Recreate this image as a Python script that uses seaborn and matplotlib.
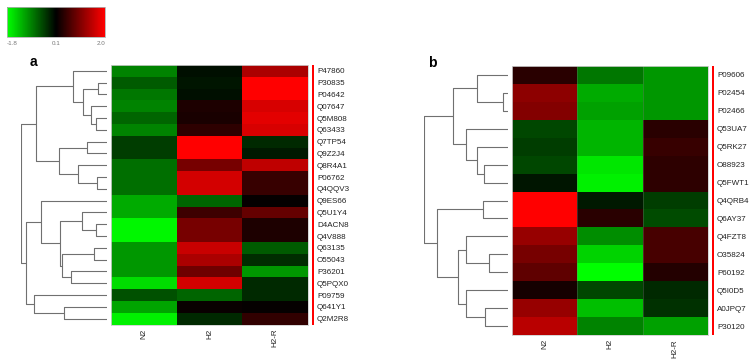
import numpy as np
import pandas as pd
import matplotlib
matplotlib.use("Agg")
import matplotlib.pyplot as plt
from matplotlib.colors import LinearSegmentedColormap
import seaborn as sns

# ---- data ----
columns = ["N2", "H2", "H2-R"]

rows_a = ["P47860", "P30835", "P04642", "Q07647", "Q5M808", "Q63433", "Q7TP54",
          "Q9Z2J4", "Q8R4A1", "P06762", "Q4QQV3", "Q9ES66", "Q5U1Y4", "D4ACN8",
          "Q4V888", "Q63135", "O55043", "P36201", "Q5PQX0", "P09759", "Q641Y1",
          "Q2M2R8"]
n2_a = [-0.87, -0.57, -0.79, -0.87, -0.65, -0.87, -0.35, -0.35, -0.72, -0.72, -0.72,
        -1.17, -1.17, -1.73, -1.73, -1.02, -1.02, -1.02, -1.54, -0.50, -1.13, -1.69]
h2_a = [-0.01, -0.05, -0.01, 0.32, 0.29, 0.44, 2.0, 2.0, 0.99, 1.66, 1.66,
        -0.65, 0.55, 0.99, 0.99, 1.59, 1.37, 0.92, 1.66, -0.65, 0.17, -0.20]
h2r_a = [1.37, 2.0, 2.0, 1.70, 1.78, 1.70, -0.20, -0.09, 1.52, 0.51, 0.51,
         0.14, 0.85, 0.32, 0.32, -0.57, -0.24, -1.02, -0.20, -0.20, 0.14, 0.47]

rows_b = ["P09606", "P02454", "P02466", "Q53UA7", "Q5RK27", "O88923", "Q5FWT1",
          "Q4QRB4", "Q6AY37", "Q4FZT8", "O35824", "P60192", "Q5I0D5", "A0JPQ7",
          "P30120"]
n2_b = [0.40, 1.14, 1.07, -0.42, -0.35, -0.42, -0.05, 2.0, 2.0, 1.22, 0.99, 0.81,
        0.25, 1.22, 1.48]
h2_b = [-0.79, -1.17, -1.09, -1.24, -1.24, -1.61, -1.69, -0.09, 0.40, -0.94, -1.46,
        -1.80, -0.42, -1.32, -0.87]
h2r_b = [-1.02, -1.02, -1.02, 0.40, 0.51, 0.44, 0.44, -0.35, -0.46, 0.62, 0.62,
         0.36, -0.20, -0.27, -1.09]

# merges: (left id, right id, height); ids >= n point to earlier merges
links_a = [(1, 2, 27), (4, 5, 32), (3, 23, 48), (22, 24, 73), (0, 25, 102),
           (6, 7, 60), (9, 10, 30), (8, 28, 88), (27, 29, 145), (26, 30, 213),
           (13, 14, 32), (12, 32, 75), (15, 16, 40), (17, 18, 107), (34, 35, 135),
           (33, 36, 142), (11, 37, 198), (20, 21, 128), (19, 39, 220),
           (38, 40, 243), (31, 41, 257)]
links_b = [(1, 2, 15), (0, 15, 92), (5, 6, 72), (4, 17, 92), (3, 18, 125),
           (16, 19, 167), (7, 8, 75), (10, 11, 58), (9, 22, 125), (13, 14, 68),
           (12, 24, 128), (23, 25, 150), (21, 26, 215), (20, 27, 253)]

vmin, vmax = -1.8, 2.0
cbar_ticks = [-1.8, 0.1, 2.0]

plt.rcParams['font.family'] = ['Liberation Sans', 'DejaVu Sans']

cmap = LinearSegmentedColormap.from_list("gkr", ["#00ff00", "#000000", "#ff0000"])
W, H = 756, 363


def box(x0, y0, x1, y1):
    # pixel box -> figure fraction rect
    return [x0 / W, 1 - y1 / H, (x1 - x0) / W, (y1 - y0) / H]


def draw_dendro(ax, links, n, xmax):
    pos = {i: (i + 0.5, 0.0) for i in range(n)}
    for k, (l, r, h) in enumerate(links):
        yl, hl = pos[l]
        yr, hr = pos[r]
        ax.plot([hl, h, h, hr], [yl, yl, yr, yr], color="#707070", lw=0.8,
                solid_capstyle="butt")
        pos[n + k] = ((yl + yr) / 2, h)
    ax.set_xlim(xmax, 0)
    ax.set_ylim(n, 0)
    ax.axis("off")


def red_bar(fig, x0, y0, y1):
    bax = fig.add_axes(box(x0, y0, x0 + 2.6, y1))
    bax.set_facecolor("#ff0000")
    bax.set_xticks([])
    bax.set_yticks([])
    for s in bax.spines.values():
        s.set_visible(False)


def style_heat(ax):
    ax.yaxis.tick_right()
    ax.tick_params(axis="y", length=0, pad=6.5, labelsize=5.8, labelrotation=0,
                   colors="#222222")
    ax.tick_params(axis="x", length=0, pad=3, labelsize=5.8, labelrotation=90,
                   colors="#222222")
    for s in ax.spines.values():
        s.set_visible(True)
        s.set_edgecolor("#cfcfcf")
        s.set_linewidth(0.6)


fig = plt.figure(figsize=(7.56, 3.63), dpi=100)

df_a = pd.DataFrame({"N2": n2_a, "H2": h2_a, "H2-R": h2r_a}, index=rows_a)[columns]
df_b = pd.DataFrame({"N2": n2_b, "H2": h2_b, "H2-R": h2r_b}, index=rows_b)[columns]

# panel a
cax = fig.add_axes(box(7, 7, 105, 37))
ax_a = fig.add_axes(box(111, 65, 308, 324.5))
sns.heatmap(df_a, ax=ax_a, cmap=cmap, vmin=vmin, vmax=vmax, cbar_ax=cax,
            cbar_kws={"orientation": "horizontal"}, xticklabels=columns,
            yticklabels=rows_a)
style_heat(ax_a)
dax_a = fig.add_axes(box(21, 65, 107, 324.5))
draw_dendro(dax_a, links_a, len(rows_a), 258)
red_bar(fig, 311.7, 65, 324.5)
fig.text(33 / W, 1 - 62 / H, "a", fontsize=10, fontweight="bold", ha="center", va="center")

# panel b
ax_b = fig.add_axes(box(512, 66, 708, 335))
sns.heatmap(df_b, ax=ax_b, cmap=cmap, vmin=vmin, vmax=vmax, cbar=False,
            xticklabels=columns, yticklabels=rows_b)
for xc in [1, 2]:
    ax_b.axvline(xc, color="#7a7a7a", lw=0.4, alpha=0.6)
style_heat(ax_b)
dax_b = fig.add_axes(box(424, 66, 508, 335))
draw_dendro(dax_b, links_b, len(rows_b), 253)
red_bar(fig, 711.8, 66, 335)
fig.text(432 / W, 1 - 63 / H, "b", fontsize=10, fontweight="bold", ha="center", va="center")

# colour key
cbar = ax_a.collections[0].colorbar
cbar.set_ticks(cbar_ticks)
cbar.set_ticklabels(["-1.8", "0.1", "2.0"])
cbar.outline.set_edgecolor("#b0b0b0")
cbar.outline.set_linewidth(0.6)
cax.tick_params(axis="x", length=0, pad=3, labelsize=4.5, colors="#777777")
labs = cax.get_xticklabels()
labs[0].set_ha("left")
labs[-1].set_ha("right")

fig.savefig("out.png", dpi=100)
